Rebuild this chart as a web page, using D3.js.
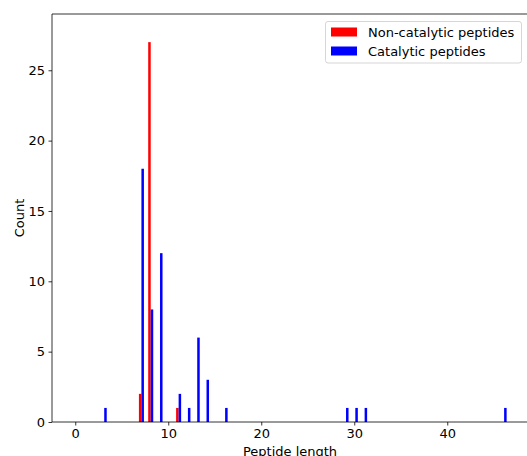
<!DOCTYPE html>
<html>
<head>
<meta charset="utf-8">
<script src="https://cdn.jsdelivr.net/npm/d3@7"></script>
<style>
  html, body { margin: 0; padding: 0; background: #fff; }
  svg { display: block; }
  text { font-family: "DejaVu Sans", sans-serif; }
</style>
</head>
<body>
<svg id="chart" width="527" height="456"></svg>
<script>
// ---- data ----
const nonCatLengths = [7, 8, 11];
const nonCatCounts  = [2, 27, 1];
const catLengths = [3, 7, 8, 9, 11, 12, 13, 14, 16, 29, 30, 31, 46];
const catCounts  = [1, 18, 8, 12, 2, 1, 6, 3, 1, 1, 1, 1, 1];
const xTicks = [0, 10, 20, 30, 40];
const yTicks = [0, 5, 10, 15, 20, 25];
const seriesNames = ["Non-catalytic peptides", "Catalytic peptides"];
const seriesColors = ["#ff0000", "#0000ff"];
const xLabel = "Peptide length";
const yLabel = "Count";

(function () {
// ---- layout ----
const svg = d3.select("#chart");
const mLeft = 52, mTop = 14, mBottom = 422;
const pxPerUnit = 9.3;
const xMin = -2.5, xMax = 51;
const x = d3.scaleLinear().domain([xMin, xMax]).range([mLeft, mLeft + (xMax - xMin) * pxPerUnit]);
const y = d3.scaleLinear().domain([0, 29]).range([mBottom, mTop]);
const barW = 0.27;
const offsets = [-0.155, 0.115];

const series = [
  nonCatLengths.map((L, i) => ({L, c: nonCatCounts[i]})),
  catLengths.map((L, i) => ({L, c: catCounts[i]}))
];

const plot = svg.append("g");
series.forEach((data, si) => {
  plot.selectAll(null).data(data).enter().append("rect")
    .attr("x", d => x(d.L + offsets[si]))
    .attr("width", d => x(d.L + offsets[si] + barW) - x(d.L + offsets[si]))
    .attr("y", d => y(d.c))
    .attr("height", d => y(0) - y(d.c))
    .attr("fill", seriesColors[si]);
});

// axes
const xAxis = d3.axisBottom(x).tickValues(xTicks).tickSize(3.5).tickPadding(3.5).tickFormat(d3.format("d"));
const yAxis = d3.axisLeft(y).tickValues(yTicks).tickSize(3.5).tickPadding(3.5).tickFormat(d3.format("d"));

const gx = svg.append("g").attr("transform", `translate(0,${mBottom})`).call(xAxis);
const gy = svg.append("g").attr("transform", `translate(${mLeft},0)`).call(yAxis);
[gx, gy].forEach(g => {
  g.select(".domain").remove();
  g.selectAll(".tick line").attr("stroke", "#000").attr("stroke-width", 0.8);
  g.selectAll(".tick text").attr("font-size", 13).attr("fill", "#000").attr("font-family", "DejaVu Sans, sans-serif");
});

// spines
const rightEdge = x(xMax);
const spine = (x1, y1, x2, y2) => svg.append("line").attr("x1", x1).attr("y1", y1).attr("x2", x2).attr("y2", y2)
  .attr("stroke", "#000").attr("stroke-width", 0.8);
spine(mLeft, mTop, mLeft, mBottom);
spine(mLeft, mBottom, rightEdge, mBottom);
spine(mLeft, mTop, rightEdge, mTop);
spine(rightEdge, mTop, rightEdge, mBottom);

// axis labels
svg.append("text").attr("x", 290).attr("y", 456)
  .attr("text-anchor", "middle").attr("font-size", 13).attr("fill", "#000").text(xLabel);
svg.append("text").attr("transform", `translate(23.5,${(mTop + mBottom) / 2}) rotate(-90)`)
  .attr("text-anchor", "middle").attr("font-size", 13).attr("fill", "#000").text(yLabel);

// legend
const lg = svg.append("g");
lg.append("rect").attr("x", 325.5).attr("y", 21.5).attr("width", 196).attr("height", 41.5)
  .attr("rx", 2.5).attr("fill", "#fff").attr("fill-opacity", 0.8)
  .attr("stroke", "#cccccc").attr("stroke-width", 0.8);
seriesNames.forEach((name, i) => {
  const cy = 32 + i * 19;
  lg.append("rect").attr("x", 331).attr("y", cy - 4.5).attr("width", 26).attr("height", 9)
    .attr("fill", seriesColors[i]);
  lg.append("text").attr("x", 368).attr("y", cy + 4.7).attr("font-size", 13).attr("fill", "#000").text(name);
});
})();
</script>
</body>
</html>
